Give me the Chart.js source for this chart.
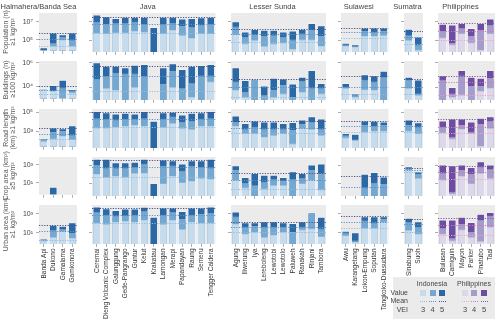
<!DOCTYPE html>
<html><head><meta charset="utf-8">
<script src="https://cdn.jsdelivr.net/npm/chart.js@4.4.1/dist/chart.umd.min.js"></script>
<style>
html,body{margin:0;padding:0;background:#fff;}
#wrap{position:relative;width:500px;height:323px;overflow:hidden;font-family:"Liberation Sans",Arial,sans-serif;}
#wrap canvas{position:absolute;}
.lg{position:absolute;left:393px;top:277px;width:102px;height:42px;background:#ebebeb;}
.t{position:absolute;font-size:7px;color:#444;white-space:nowrap;line-height:8px;}
.sw{position:absolute;width:6px;height:6px;}
.ml{position:absolute;width:7px;height:0;border-top:1px dotted;}
</style></head><body><div id="wrap"></div>
<script>
// ---------------- data ----------------
const regions = ['Halmahera/Banda Sea','Java','Lesser Sunda','Sulawesi','Sumatra','Philippines'];
const regionSizes = [4,13,10,5,2,6];
const volcanoes = ['Banda Api','Dukono','Gamalama','Gamkonora',
 'Ceremai','Dieng Volcanic Complex','Galunggung','Gede-Pangrango','Guntur','Kelut','Krakatau','Lamongan','Merapi','Papandayan','Raung','Semeru','Tengger Caldera',
 'Agung','Iliwerung','Iya','Lereboleng','Lewotobi','Lewotolo','Paluweh','Ranakah','Rinjani','Tambora',
 'Awu','Karangetang','Lokon-Empung','Soputan','Tangkoko-Duasudara',
 'Sinabung','Suoh',
 'Bulusan','Camiguin','Mayon','Parker','Pinatubo','Taal'];
const rowTitles = [['Population (n)','≥1 kg/m²'],['Buildings (n)','≥100 kg/m²'],['Road length','(km) ≥1 kg/m²'],['Crop area (km²)','≥5 kg/m²'],['Urban area (km²)','≥1 kg/m²']];
const rowTicks = [[1e5,1e7],[1e4,1e6],[1e3,1e5],[1e1,1e3],[1e1,1e3]];
const rowTickLabels = [['10⁵','10⁷'],['10⁴','10⁶'],['10³','10⁵'],['10¹','10³'],['10¹','10³']];
const rowMin = [6.3e3, 8.9e2, 21, 0.42, 0.6];
const rowMax = [8.9e7, 1.41e6, 2.3e5, 7.8e3, 9.1e3];

// Population
const pop5 = [1.4e4,6.0e5,3.9e5,6.0e5,
 5.7e7,3.7e7,2.5e7,3.2e7,3.2e7,3.2e7,2.7e6,3.2e7,3.2e7,2.1e7,2.5e7,2.9e7,3.2e7,
 1.07e7,8.9e5,1.6e6,1.4e6,1.4e6,8.9e5,1.15e6,1.75e6,7.2e6,4.0e6,
 5.8e4,3.9e4,2.4e6,2.4e6,2.4e6,
 1.75e6,2.6e5,
 6.1e6,4.8e6,7.2e6,2.1e6,7.2e6,2.1e7];
const pop4 = [null,4.2e4,2.2e5,8.9e4,
 1.07e7,6.1e6,7.2e6,7.2e6,1.07e7,5.6e6,null,5.6e6,8.4e6,3.7e6,3.1e6,4.8e6,5.6e6,
 3.3e6,2.6e5,4.7e5,3.1e5,3.9e5,2.6e5,1.35e5,6.0e5,1.6e6,3.1e5,
 3.9e4,2.6e4,1.07e6,8.9e5,1.07e6,
 3.9e5,3.3e4,
 1.07e6,5.8e4,2.1e6,3.1e5,1.4e6,4.8e6];
const pop3 = [null,2.1e4,9.5e4,2.1e4,
 6.9e5,6.0e5,7.7e5,7.7e5,1.15e6,8.9e5,null,6.0e5,1.4e6,3.9e5,2.0e5,6.0e5,6.0e5,
 5.0e5,5.0e4,1.1e5,2.6e4,5.0e4,5.8e4,1.4e4,1.35e5,1.35e5,2.7e4,
 2.7e4,2.1e4,3.1e5,3.1e5,3.9e5,
 1.1e5,1.1e4,
 2.2e5,3.9e4,6.0e5,6.4e4,1.1e4,6.0e5];
const popMean5 = [6.0e5,3.2e7,1.6e6,2.4e6,1.07e6,7.2e6];
const popMean4 = [1.35e5,6.1e6,4.7e5,7.7e5,2.6e5,1.15e6];
const popMean3 = [2.1e4,6.9e5,7.4e4,2.0e5,5.0e4,1.1e5];

// Buildings
const bld5 = [6.6e3,1.26e4,3.4e4,5.8e3,
 1.07e6,5.5e5,5.5e5,4.0e5,6.6e5,7.6e5,null,4.0e5,8.7e5,2.9e5,5.5e5,6.3e5,7.6e5,
 4.0e5,3.6e4,4.7e4,1.3e4,5.7e4,4.9e4,1.9e4,6.9e4,2.4e5,2.1e4,
 2.1e4,3.0e3,1.08e5,8.9e4,2.1e5,
 6.9e4,4.1e4,
 8.9e4,1.0e4,2.4e5,6.9e4,5.7e4,2.4e5];
const bld4 = [6.6e3,4.2e3,8.1e3,4.2e3,
 4.9e4,7.8e4,1.5e5,1.3e5,1.3e5,7.8e4,null,1.8e4,2.1e5,8.1e3,2.1e4,8.9e4,8.9e4,
 2.9e4,4.2e3,4.6e4,2.2e3,5.8e3,1.5e4,1.6e3,3.4e4,8.1e3,8.1e3,
 1.1e4,2.2e3,4.1e4,2.9e4,6.4e4,
 4.1e4,3.0e3,
 4.1e4,3.0e3,8.9e4,1.26e4,1.26e4,5.7e4];
const bld3 = [6.5e3,4.0e3,1.1e3,3.0e3,
 null,8.1e3,5.8e3,null,1.0e4,null,null,null,1.0e4,null,1.6e3,null,2.9e4,
 5.8e3,1.6e3,null,null,1.6e3,3.0e3,null,4.2e3,null,3.0e3,
 8.1e3,1.6e3,6.6e3,5.8e3,null,
 8.1e3,2.2e3,
 null,1.6e3,2.5e3,null,5.0e3,9.1e3];
const bldMean5 = [1.0e4,5.5e5,4.9e4,8.9e4,4.9e4,8.9e4];
const bldMean4 = [5.0e3,7.8e4,1.0e4,1.1e4,1.0e4,2.9e4];
const bldMean3 = [2.5e3,5.0e3,1.5e3,3.0e3,3.0e3,2.5e3];

// Road length
const road5 = [1.6e2,2.3e3,1.9e3,4.0e3,
 1.3e5,1.0e5,7.3e4,8.7e4,7.3e4,1.3e5,1.3e4,1.0e5,1.1e5,5.7e4,8.7e4,1.0e5,1.3e5,
 4.5e4,7.6e3,1.4e4,1.1e4,1.1e4,7.6e3,9.8e3,1.7e4,3.8e4,2.2e4,
 6.8e2,5.7e2,1.4e4,1.3e4,1.1e4,
 1.7e4,8.9e3,
 1.4e4,2.2e4,2.2e4,1.1e4,2.6e4,3.8e4];
const road4 = [1.1e2,7.8e2,1.0e3,3.5e2,
 2.6e4,2.0e4,1.7e4,2.2e4,2.2e4,2.6e4,null,2.2e4,3.8e4,1.1e4,1.4e4,2.2e4,2.6e4,
 1.1e4,1.8e3,3.4e3,1.8e3,1.8e3,1.8e3,1.5e3,6.5e3,1.1e4,1.8e3,
 4.5e2,1.6e2,5.1e3,4.0e3,5.1e3,
 5.1e3,2.9e3,
 3.4e3,3.0e2,5.1e3,1.0e3,6.5e3,1.4e4];
const road3 = [80,1.6e2,3.0e2,1.3e2,
 2.6e3,2.6e3,3.4e3,4.0e3,5.1e3,4.0e3,null,2.9e3,7.6e3,2.3e3,1.8e3,4.0e3,4.0e3,
 4.0e3,6.8e2,6.8e2,3.0e2,4.5e2,6.8e2,60,2.3e3,1.8e3,4.5e2,
 2.6e2,1.3e2,1.0e3,1.2e3,1.2e3,
 1.3e3,6.8e2,
 8.7e2,2.0e2,1.9e3,6.8e2,34,2.3e3];
const roadMean5 = [2.3e3,1.0e5,1.4e4,1.3e4,1.4e4,2.2e4];
const roadMean4 = [5.3e2,2.0e4,2.3e3,4.0e3,4.0e3,3.4e3];
const roadMean3 = [1.3e2,2.9e3,6.8e2,1.0e3,1.0e3,6.8e2];

// Crop area
const crop5 = [null,3.2,null,null,
 4.6e3,4.6e3,1.95e3,1.95e3,2.2e3,4.6e3,10,3.9e3,3.2e3,1.4e3,3.2e3,3.2e3,4.6e3,
 9.1e2,46,1.3e2,83,83,46,1.95e2,1.3e2,1.07e3,1.4e3,
 null,null,1.07e2,1.7e2,54,
 7.0e2,1.95e2,
 1.07e3,9.1e2,1.07e3,6.0e2,2.5e3,1.07e3];
const crop4 = [null,null,null,null,
 1.07e3,4.6e2,4.6e2,4.6e2,6.0e2,1.4e3,null,8.4e2,9.1e2,2.5e2,8.4e2,6.0e2,5.4e2,
 3.0e2,12,6.5,15,28,18,28,36,3.0e2,1.3e2,
 null,null,3.6,12,8.4,
 4.6e2,1.07e2,
 1.5e2,1.2,3.0e2,1.07e2,7.0e2,3.6e2];
const crop3 = [null,null,null,null,
 1.07e2,46,65,54,1.3e2,1.5e2,null,10,65,13,18,36,30,
 23,3.6,null,2.8,6.5,6.5,null,10,23,2.2,
 null,null,null,null,null,
 3.0e2,36,
 23,0.78,70,10,1.3e2,36];
const cropMean5 = [null,3.9e3,1.5e2,65,4.6e2,9.1e2];
const cropMean4 = [null,7.0e2,25,3.6,2.8e2,1.95e2];
const cropMean3 = [null,46,2.2,null,1.7e2,30];

// Urban area
const urb5 = [2.2,65,50,1.2e2,
 6.0e3,3.9e3,2.5e3,3.6e3,3.6e3,5.4e3,4.6e2,4.6e3,4.6e3,1.95e3,4.6e3,4.6e3,6.0e3,
 1.7e3,1.17e2,1.17e2,1.5e2,1.5e2,1.17e2,1.0e2,1.5e2,1.45e3,4.6e2,
 15,10,5.4e2,5.4e2,5.4e2,
 3.6e2,1.5e2,
 2.3e2,2.3e2,4.6e2,1.3e2,1.0e3,1.5e3];
const urb4 = [1.5,18,23,9,
 1.5e3,8.4e2,6.5e2,7.0e2,8.4e2,1.95e3,null,8.4e2,1.5e3,2.8e2,8.4e2,1.0e3,1.3e3,
 5.4e2,42,50,42,42,42,11.7,42,1.3e3,28,
 10,1.4,1.95e2,1.17e2,2.8e2,
 1.3e2,42,
 32,2.5,83,11.7,2.3e2,6.5e2];
const urb3 = [1.4,3.2,14,2.8,
 1.17e2,78,1.5e2,1.8e2,1.5e2,2.3e2,null,78,2.3e2,23,1.5e2,1.17e2,1.17e2,
 83,7.7,11.7,3.2,6,11.7,null,21,28,3.9,
 5,1.07,32,32,1.5e2,
 18,7.7,
 7.7,1.4,21,3.2,1.17,42];
const urbMean5 = [65,4.6e3,1.5e2,5.4e2,2.8e2,3.6e2];
const urbMean4 = [14,8.4e2,42,1.3e2,85,65];
const urbMean3 = [1.7,1.17e2,11.7,32,13,5];

const rowSeries = [
  [pop3,pop4,pop5,popMean3,popMean4,popMean5],
  [bld3,bld4,bld5,bldMean3,bldMean4,bldMean5],
  [road3,road4,road5,roadMean3,roadMean4,roadMean5],
  [crop3,crop4,crop5,cropMean3,cropMean4,cropMean5],
  [urb3,urb4,urb5,urbMean3,urbMean4,urbMean5]
];

// ---------------- style / layout ----------------
const barColors = {ID:['#c6dbec','#74a8d0','#2a68a6'], PH:['#dcd8ea','#a49cca','#6c4da1']};
const meanColors = {ID:['#8fbfe4','#5b92cc','#4a5289'], PH:['#f29fce','#cf78bd','#86589f']};
const pitch = 9.5;
const colX = [39, 92, 231, 341, 404, 438];
const rowY = [13, 61, 109, 157, 205];
const rowH = 39;
const FONT = '"Liberation Sans", Arial, sans-serif';
Chart.defaults.font.family = FONT;

const bgPlugin = {id:'panelbg', beforeDraw(chart){const a=chart.chartArea,ctx=chart.ctx;ctx.save();ctx.fillStyle='#ebebeb';ctx.fillRect(a.left,a.top,a.right-a.left,a.bottom-a.top);ctx.restore();}};
const meanPlugin = {id:'means', afterDatasetsDraw(chart, args, opts){
  const a=chart.chartArea, ctx=chart.ctx, y=chart.scales.y;
  ctx.save(); ctx.beginPath(); ctx.rect(a.left,a.top,a.right-a.left,a.bottom-a.top); ctx.clip();
  for (let i=0;i<3;i++){ const m=opts.vals[i]; if(m==null) continue;
    const py=Math.round(y.getPixelForValue(m))+0.5;
    ctx.strokeStyle=opts.cols[i]; ctx.lineWidth=1; ctx.setLineDash([1.2,1.4]);
    ctx.beginPath(); ctx.moveTo(a.left,py); ctx.lineTo(a.right,py); ctx.stroke(); }
  ctx.restore(); }};

const wrap = document.getElementById('wrap');
let offs = [0]; for (let i=0;i<regionSizes.length;i++) offs.push(offs[i]+regionSizes[i]);

for (let r=0;r<5;r++){
  for (let c=0;c<6;c++){
    const n=regionSizes[c], o=offs[c];
    const x0=colX[c], x1=x0+n*pitch, y0=rowY[r], y1=y0+rowH;
    const cl = c===0 ? 0 : x0-12;
    const ct = r===0 ? 0 : y0-8;
    const yW = x0-cl;
    const xAxisH = r===4 ? 323-y1 : 6;
    const cw = Math.ceil(x1-cl+yW);
    const ch = Math.ceil(y1-ct+xAxisH);
    const padR = cw-(x1-cl);
    const padB = ch-xAxisH-(y1-ct);
    const cv=document.createElement('canvas');
    cv.width=cw; cv.height=ch; cv.style.left=cl+'px'; cv.style.top=ct+'px';
    wrap.appendChild(cv);
    const key = c===5 ? 'PH' : 'ID';
    const S=rowSeries[r];
    const tickFont={family:FONT,size:7};
    new Chart(cv,{type:'bar',
      data:{labels:volcanoes.slice(o,o+n),datasets:[0,1,2].map(k=>({data:S[k].slice(o,o+n),backgroundColor:barColors[key][k]}))},
      options:{responsive:false,animation:false,devicePixelRatio:1,events:[],
        layout:{padding:{top:r===0?0:y0-ct,right:padR,bottom:padB,left:0}},
        datasets:{bar:{grouped:false,categoryPercentage:1,barPercentage:0.84,borderWidth:0.7,borderColor:'rgba(255,255,255,0.55)',borderSkipped:'start'}},
        plugins:{legend:{display:false},tooltip:{enabled:false},
          title:{display:r===0,text:regions[c],fullSize:true,color:'#444',font:{family:FONT,size:7.5,weight:'normal',lineHeight:1.2},padding:{top:2,bottom:2}},
          means:{vals:[S[3][c],S[4][c],S[5][c]],cols:meanColors[key]}},
        scales:{
          x:{type:'category',offset:true,border:{display:false},
             grid:{drawOnChartArea:false,drawTicks:true,tickLength:3,offset:false,color:'#999',lineWidth:0.8},
             ticks:{display:r===4,autoSkip:false,maxRotation:90,minRotation:90,padding:1.5,color:'#333',font:{family:FONT,size:6.5}},
             afterFit:s=>{s.height=xAxisH;}},
          y:{type:'logarithmic',min:rowMin[r],max:rowMax[r],border:{display:false},
             grid:{drawOnChartArea:false,drawTicks:true,tickLength:3,color:'#999',lineWidth:0.8},
             ticks:{display:c===0,padding:3,color:'#444',font:tickFont,callback:(v,i)=>rowTickLabels[r][i]},
             afterBuildTicks:s=>{s.ticks=rowTicks[r].map(v=>({value:v}));},
             title:{display:c===0,text:rowTitles[r],color:'#555',font:{family:FONT,size:7,lineHeight:1.0},padding:{top:2.5,bottom:0}},
             afterFit:s=>{s.width=yW;}}
        }},
      plugins:[bgPlugin,meanPlugin]});
  }
}

// ---------------- legend (HTML) ----------------
const lg=document.createElement('div'); lg.className='lg'; wrap.appendChild(lg);
function txt(s,x,y,align,size){const d=document.createElement('div');d.className='t';d.textContent=s;d.style.top=(y-4)+'px';if(size)d.style.fontSize=size+'px';
  if(align==='r'){d.style.right=(500-x)+'px';} else if(align==='c'){d.style.left=(x-30)+'px';d.style.width='60px';d.style.textAlign='center';} else d.style.left=x+'px';
  wrap.appendChild(d);}
txt('Indonesia',432,284,'c'); txt('Philippines',474,284,'c');
txt('Value',408,293,'r'); txt('Mean',408,301,'r'); txt('VEI',408,309.5,'r');
const swX={ID:[420,429.5,439],PH:[462,471,481]};
['ID','PH'].forEach(k=>{swX[k].forEach((x,i)=>{
  const s=document.createElement('div');s.className='sw';s.style.left=x+'px';s.style.top='290px';s.style.background=barColors[k][i];wrap.appendChild(s);
  const m=document.createElement('div');m.className='ml';m.style.left=(x-0.5)+'px';m.style.top='301px';m.style.borderTopColor=meanColors[k][i];wrap.appendChild(m);
  txt(String(i+3),x+3,309.5,'c',7.5);
});});
</script></body></html>
